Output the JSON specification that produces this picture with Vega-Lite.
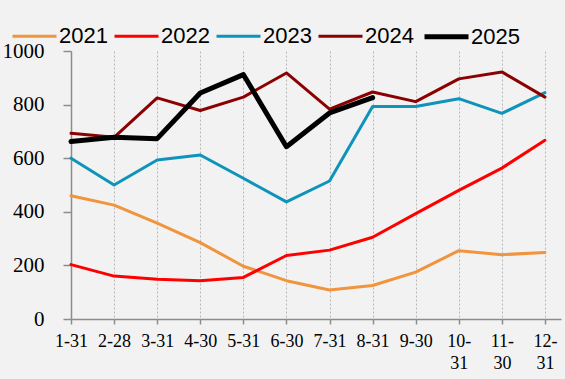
{
  "$schema": "https://vega.github.io/schema/vega-lite/v6.json",
  "width": 490,
  "height": 268,
  "autosize": {"type": "none"},
  "padding": {"left": 71, "top": 51, "right": 4, "bottom": 60},
  "background": "#f2f2f2",
  "config": {
    "view": {"stroke": null},
    "axis": {"labelFont": "Liberation Serif", "labelColor": "#000000", "domainColor": "#8c8c8c", "tickColor": "#8c8c8c", "domainWidth": 1.5, "tickWidth": 1.5}
  },
  "data": {"values": [
    {"date": "1-31", "year": "2021", "value": 460},
    {"date": "2-28", "year": "2021", "value": 425},
    {"date": "3-31", "year": "2021", "value": 358},
    {"date": "4-30", "year": "2021", "value": 285},
    {"date": "5-31", "year": "2021", "value": 197},
    {"date": "6-30", "year": "2021", "value": 143},
    {"date": "7-31", "year": "2021", "value": 108},
    {"date": "8-31", "year": "2021", "value": 125},
    {"date": "9-30", "year": "2021", "value": 175},
    {"date": "10-31", "year": "2021", "value": 255},
    {"date": "11-30", "year": "2021", "value": 240},
    {"date": "12-31", "year": "2021", "value": 248},
    {"date": "1-31", "year": "2022", "value": 203},
    {"date": "2-28", "year": "2022", "value": 160},
    {"date": "3-31", "year": "2022", "value": 148},
    {"date": "4-30", "year": "2022", "value": 143},
    {"date": "5-31", "year": "2022", "value": 155},
    {"date": "6-30", "year": "2022", "value": 237},
    {"date": "7-31", "year": "2022", "value": 257},
    {"date": "8-31", "year": "2022", "value": 305},
    {"date": "9-30", "year": "2022", "value": 393},
    {"date": "10-31", "year": "2022", "value": 480},
    {"date": "11-30", "year": "2022", "value": 563},
    {"date": "12-31", "year": "2022", "value": 667},
    {"date": "1-31", "year": "2023", "value": 600},
    {"date": "2-28", "year": "2023", "value": 500},
    {"date": "3-31", "year": "2023", "value": 593},
    {"date": "4-30", "year": "2023", "value": 612},
    {"date": "5-31", "year": "2023", "value": 525},
    {"date": "6-30", "year": "2023", "value": 437},
    {"date": "7-31", "year": "2023", "value": 515},
    {"date": "8-31", "year": "2023", "value": 793},
    {"date": "9-30", "year": "2023", "value": 793},
    {"date": "10-31", "year": "2023", "value": 822},
    {"date": "11-30", "year": "2023", "value": 767},
    {"date": "12-31", "year": "2023", "value": 845},
    {"date": "1-31", "year": "2024", "value": 693},
    {"date": "2-28", "year": "2024", "value": 678},
    {"date": "3-31", "year": "2024", "value": 825},
    {"date": "4-30", "year": "2024", "value": 778},
    {"date": "5-31", "year": "2024", "value": 828},
    {"date": "6-30", "year": "2024", "value": 918},
    {"date": "7-31", "year": "2024", "value": 783},
    {"date": "8-31", "year": "2024", "value": 847},
    {"date": "9-30", "year": "2024", "value": 811},
    {"date": "10-31", "year": "2024", "value": 896},
    {"date": "11-30", "year": "2024", "value": 922},
    {"date": "12-31", "year": "2024", "value": 828},
    {"date": "1-31", "year": "2025", "value": 662},
    {"date": "2-28", "year": "2025", "value": 678},
    {"date": "3-31", "year": "2025", "value": 673},
    {"date": "4-30", "year": "2025", "value": 843},
    {"date": "5-31", "year": "2025", "value": 912},
    {"date": "6-30", "year": "2025", "value": 643},
    {"date": "7-31", "year": "2025", "value": 769},
    {"date": "8-31", "year": "2025", "value": 826}
  ]},
  "mark": {"type": "line", "strokeCap": "round", "strokeJoin": "round"},
  "encoding": {
    "x": {
      "field": "date", "type": "ordinal",
      "scale": {"type": "point", "domain": ["1-31","2-28","3-31","4-30","5-31","6-30","7-31","8-31","9-30","10-31","11-30","12-31"], "padding": 0.186, "align": 0},
      "axis": {
        "title": null, "labelAngle": 0, "labelFont": "Liberation Serif", "labelFontSize": 18, "labelPadding": 8, "tickSize": 5,
        "labelLineHeight": 22,
        "labelExpr": "length(datum.label) > 4 ? [substring(datum.label, 0, 3), substring(datum.label, 3)] : datum.label",
        "grid": true, "gridDash": [2, 2], "gridColor": "#b8b8b8", "gridWidth": 1
      }
    },
    "y": {
      "field": "value", "type": "quantitative",
      "scale": {"domain": [0, 1000], "nice": false},
      "axis": {"title": null, "values": [0, 200, 400, 600, 800, 1000], "format": "d", "labelFont": "Liberation Serif", "labelFontSize": 21, "labelPadding": 19, "tickSize": 8, "grid": false}
    },
    "color": {
      "field": "year", "type": "nominal",
      "scale": {"domain": ["2021","2022","2023","2024","2025"], "range": ["#F0943D","#FF0000","#0E93BA","#8B0000","#000000"]},
      "legend": {
        "title": null, "orient": "none", "legendX": -61, "legendY": -39, "direction": "horizontal", "columns": 5,
        "symbolType": "stroke", "symbolSize": 1936, "labelFont": "Liberation Sans", "labelFontSize": 22, "labelColor": "#000000",
        "labelOffset": 0, "columnPadding": 0,
        "encode": {"symbols": {"update": {"strokeWidth": {"scale": "strokeWidth", "field": "value"}}}}
      }
    },
    "strokeWidth": {
      "field": "year", "type": "nominal",
      "scale": {"type": "ordinal", "domain": ["2021","2022","2023","2024","2025"], "range": [3, 3, 3, 3, 5]},
      "legend": null
    }
  }
}
